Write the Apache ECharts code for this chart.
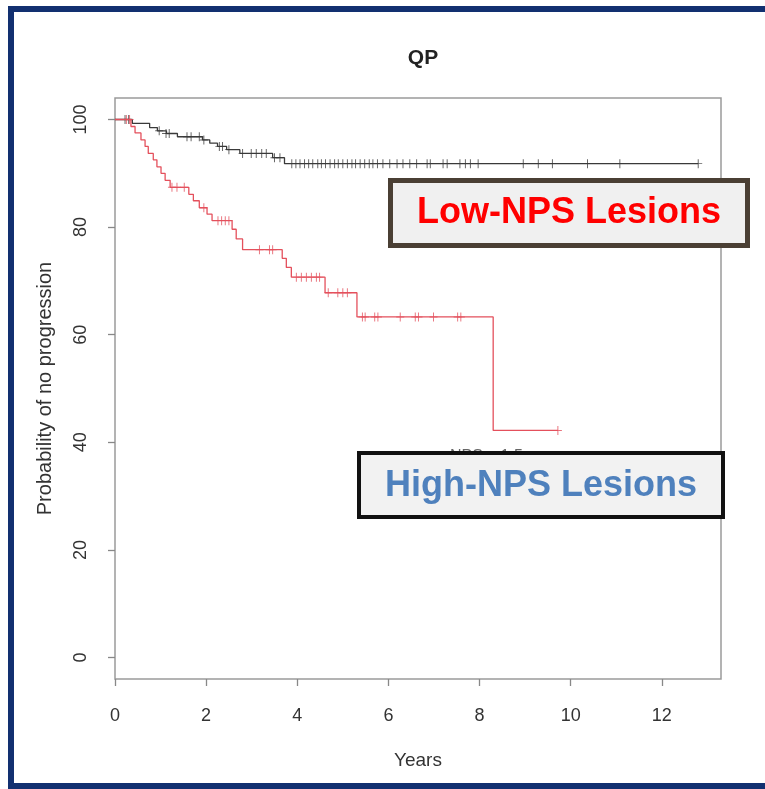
<!DOCTYPE html>
<html>
<head>
<meta charset="utf-8">
<script src="https://cdn.jsdelivr.net/npm/echarts@6/dist/echarts.min.js"></script>
<style>
  html, body { margin: 0; padding: 0; background: #ffffff; }
  #chart { width: 765px; height: 789px; }
</style>
</head>
<body>
<div id="chart"></div>
<script>
// ---- Data ----
const xTicks = [0, 2, 4, 6, 8, 10, 12];
const yTicks = [0, 20, 40, 60, 80, 100];

// Black curve (labelled "Low-NPS Lesions" box) – Kaplan-Meier steps
const lowStepTimes = [0, 0.38, 0.76, 0.93, 1.13, 1.37, 1.92, 2.08, 2.25, 2.45, 2.74, 3.46, 3.72, 12.8];
const lowStepSurv  = [100, 99.3, 98.5, 97.9, 97.4, 96.8, 96.2, 95.6, 95.0, 94.4, 93.7, 92.9, 91.8, 91.8];
// censor marks (time, survival)
const lowCensorTimes = [0.22, 0.3, 0.97, 1.12, 1.19, 1.58, 1.67, 1.85, 1.95, 2.29, 2.36, 2.5, 2.8, 2.99, 3.1, 3.22, 3.32, 3.5, 3.62,
  3.88, 3.97, 4.06, 4.16, 4.25, 4.34, 4.45, 4.53, 4.62, 4.72, 4.82, 4.9, 5.0, 5.1, 5.2, 5.28, 5.38, 5.48, 5.58, 5.66, 5.76,
  5.88, 6.03, 6.19, 6.32, 6.47, 6.62, 6.85, 6.92, 7.2, 7.29, 7.57, 7.69, 7.8, 7.97, 8.96, 9.29, 9.6, 10.37, 11.08, 12.8];
const lowCensorSurv = [100, 100, 97.9, 97.4, 97.4, 96.8, 96.8, 96.8, 96.2, 95.0, 95.0, 94.4, 93.7, 93.7, 93.7, 93.7, 93.7, 92.9, 92.9,
  91.8, 91.8, 91.8, 91.8, 91.8, 91.8, 91.8, 91.8, 91.8, 91.8, 91.8, 91.8, 91.8, 91.8, 91.8, 91.8, 91.8, 91.8, 91.8, 91.8, 91.8,
  91.8, 91.8, 91.8, 91.8, 91.8, 91.8, 91.8, 91.8, 91.8, 91.8, 91.8, 91.8, 91.8, 91.8, 91.8, 91.8, 91.8, 91.8, 91.8, 91.8];

// Red curve – Kaplan-Meier steps
const highStepTimes = [0, 0.35, 0.44, 0.57, 0.66, 0.73, 0.84, 0.92, 1.01, 1.1, 1.21, 1.62, 1.72, 1.85, 2.02, 2.13, 2.57, 2.66, 2.8,
  3.67, 3.76, 3.87, 4.61, 5.31, 8.3, 9.72];
const highStepSurv  = [100, 98.7, 97.5, 96.2, 95.0, 93.7, 92.5, 91.2, 90.0, 88.7, 87.4, 86.1, 84.9, 83.6, 82.4, 81.2, 79.6, 77.8, 75.8,
  74.2, 72.5, 70.7, 67.8, 63.3, 42.2, 42.2];
const highCensorTimes = [0.25, 0.32, 1.25, 1.36, 1.52, 1.95, 2.26, 2.34, 2.42, 2.5, 3.17, 3.39, 3.46, 3.98, 4.09, 4.2, 4.31, 4.42, 4.49,
  4.68, 4.89, 5.0, 5.1, 5.43, 5.49, 5.7, 5.77, 6.26, 6.59, 6.66, 6.99, 7.52, 7.59, 9.72];
const highCensorSurv = [100, 100, 87.4, 87.4, 87.4, 83.6, 81.2, 81.2, 81.2, 81.2, 75.8, 75.8, 75.8, 70.7, 70.7, 70.7, 70.7, 70.7, 70.7,
  67.8, 67.8, 67.8, 67.8, 63.3, 63.3, 63.3, 63.3, 63.3, 63.3, 63.3, 63.3, 63.3, 63.3, 42.2];

const titleText = 'QP';
const xName = 'Years';
const yName = 'Probability of no progression';
const boxLowText = 'Low-NPS Lesions';
const boxHighText = 'High-NPS Lesions';
const hiddenLegendText = 'NPS \u2265 1.5';

// ---- Build ----
const FONT = 'Arial, "Liberation Sans", Helvetica, sans-serif';
const BLACK = '#3a3a3a';
const RED = '#e4505c';
const zip = (a, b) => a.map((v, i) => [v, b[i]]);
const plusPath = 'path://M-0.12,-1L0.12,-1L0.12,1L-0.12,1ZM-1,-0.1L1,-0.1L1,0.1L-1,0.1Z';

const chart = echarts.init(document.getElementById('chart'), null, { renderer: 'canvas' });

const option = {
  backgroundColor: '#ffffff',
  animation: false,
  title: {
    text: titleText,
    left: 418,
    top: 43,
    textAlign: 'center',
    textStyle: { fontFamily: FONT, fontWeight: 'bold', fontSize: 21, color: '#222' }
  },
  grid: {
    left: 115, right: 44, top: 98, bottom: 110,
    show: true, borderColor: '#9a9a9a', borderWidth: 1.5, backgroundColor: 'transparent'
  },
  xAxis: {
    type: 'value', min: 0, max: 13.3,
    name: xName, nameLocation: 'middle', nameGap: 72,
    nameTextStyle: { fontFamily: FONT, fontSize: 19, color: '#333' },
    axisLine: { show: false, onZero: false },
    splitLine: { show: false },
    axisTick: { show: true, length: 7, customValues: xTicks, lineStyle: { color: '#888', width: 1.3 } },
    axisLabel: { customValues: xTicks, margin: 28, fontFamily: FONT, fontSize: 18, color: '#333' }
  },
  yAxis: {
    type: 'value', min: -4, max: 104,
    name: yName, nameLocation: 'middle', nameGap: 60, nameRotate: 90,
    nameTextStyle: { fontFamily: FONT, fontSize: 20, color: '#333' },
    axisLine: { show: false, onZero: false },
    splitLine: { show: false },
    axisTick: { show: true, length: 7, customValues: yTicks, lineStyle: { color: '#888', width: 1.3 } },
    axisLabel: { customValues: yTicks, rotate: 90, margin: 25, fontFamily: FONT, fontSize: 18, color: '#333' }
  },
  series: [
    {
      name: 'black', type: 'line', step: 'end', data: zip(lowStepTimes, lowStepSurv),
      showSymbol: false, lineStyle: { color: BLACK, width: 1.3 }, z: 3
    },
    {
      name: 'blackCensor', type: 'scatter', data: zip(lowCensorTimes, lowCensorSurv),
      symbol: plusPath, symbolSize: [8, 9], itemStyle: { color: BLACK }, z: 3
    },
    {
      name: 'red', type: 'line', step: 'end', data: zip(highStepTimes, highStepSurv),
      showSymbol: false, lineStyle: { color: RED, width: 1.3 }, z: 4
    },
    {
      name: 'redCensor', type: 'scatter', data: zip(highCensorTimes, highCensorSurv),
      symbol: plusPath, symbolSize: [8, 9], itemStyle: { color: RED }, z: 4
    }
  ],
  graphic: [
    // outer navy frame (right side cut off)
    { type: 'rect', shape: { x: 11, y: 9, width: 800, height: 777 },
      style: { fill: 'none', stroke: '#123070', lineWidth: 6 }, z: 100 },
    // partially hidden original legend text
    { type: 'text', left: 450, top: 449, z: 50,
      style: { text: hiddenLegendText, fontFamily: FONT, fontSize: 16, fill: '#666' } },
    // Low-NPS box
    { type: 'rect', shape: { x: 390.5, y: 180.5, width: 357, height: 65 },
      style: { fill: '#f0f0f0', stroke: '#4a3f34', lineWidth: 5 }, z: 60 },
    { type: 'text', x: 569, y: 213, z: 61,
      style: { text: boxLowText, fontFamily: FONT, fontWeight: 'bold', fontSize: 36, fill: '#ff0000',
               textAlign: 'center', textVerticalAlign: 'middle' } },
    // High-NPS box
    { type: 'rect', shape: { x: 359, y: 453, width: 364, height: 64 },
      style: { fill: '#f2f2f2', stroke: '#111111', lineWidth: 4 }, z: 60 },
    { type: 'text', x: 541, y: 486, z: 61,
      style: { text: boxHighText, fontFamily: FONT, fontWeight: 'bold', fontSize: 36, fill: '#4f81bd',
               textAlign: 'center', textVerticalAlign: 'middle' } }
  ]
};

chart.setOption(option);
</script>
</body>
</html>
